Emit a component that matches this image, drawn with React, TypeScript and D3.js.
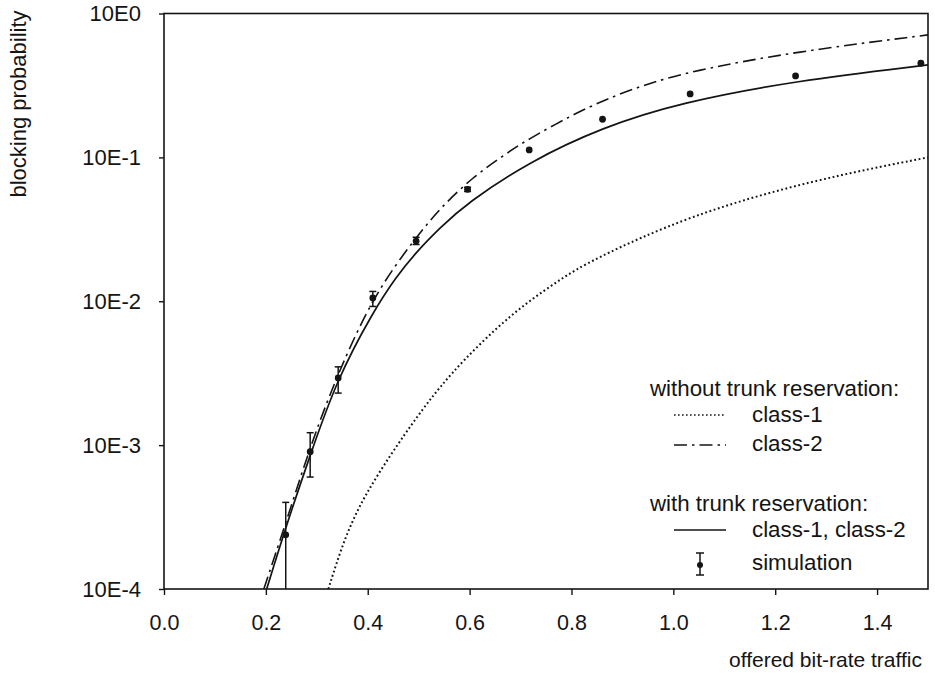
import { useEffect, useRef } from 'react';
import * as d3 from 'd3';

// axis ticks
const xTicks = [0, 0.2, 0.4, 0.6, 0.8, 1.0, 1.2, 1.4];
const yTicks = [1, 0.1, 0.01, 0.001, 0.0001];
const yTickLabels = ['10E0', '10E-1', '10E-2', '10E-3', '10E-4'];

// without trunk reservation, class-1 (dotted)
const class1X = [0.3227, 0.352, 0.391, 0.463, 0.509, 0.542, 0.588, 0.653, 0.712, 0.777, 0.836, 1.033, 1.275, 1.5];
const class1Y = [1e-4, 2.14e-4, 4.37e-4, 1.07e-3, 1.8e-3, 2.54e-3, 3.89e-3, 6.53e-3, 9.77e-3, 0.0141, 0.0191, 0.0398, 0.0697, 0.1];

// without trunk reservation, class-2 (dash-dot)
const class2X = [0.196, 0.239, 0.287, 0.336, 0.411, 0.496, 0.542, 0.607, 0.673, 0.709, 0.804, 0.869, 0.935, 1.033, 1.24, 1.5];
const class2Y = [1e-4, 2.86e-4, 9.77e-4, 2.84e-3, 0.01107, 0.0281, 0.0443, 0.0735, 0.1067, 0.13, 0.1995, 0.254, 0.3126, 0.398, 0.543, 0.71];

// with trunk reservation, class-1 and class-2 (solid)
const trunkX = [0.2016, 0.239, 0.287, 0.339, 0.411, 0.456, 0.496, 0.542, 0.594, 0.717, 0.861, 1.013, 1.24, 1.5];
const trunkY = [1e-4, 2.69e-4, 8.51e-4, 2.84e-3, 8.51e-3, 0.0148, 0.0221, 0.0324, 0.0479, 0.0933, 0.162, 0.24, 0.341, 0.439];

// simulation points with confidence intervals
const simX = [0.239, 0.287, 0.342, 0.41, 0.495, 0.596, 0.717, 0.861, 1.033, 1.24, 1.486];
const simY = [2.38e-4, 9.0e-4, 2.93e-3, 0.01055, 0.0262, 0.06, 0.1126, 0.184, 0.276, 0.368, 0.451];
const simLow = [1e-5, 6.0e-4, 2.3e-3, 0.0092, 0.0248, 0.058, 0.1126, 0.184, 0.276, 0.368, 0.451];
const simHigh = [4.0e-4, 1.22e-3, 3.5e-3, 0.0117, 0.0278, 0.062, 0.1126, 0.184, 0.276, 0.368, 0.451];

const W = 935;
const H = 680;
const left = 164, right = 928, top = 13.5, bottom = 589;
const ink = '#141414';
const font = '"Liberation Sans", Arial, Helvetica, sans-serif';

const App = () => {
  const xAxisRef = useRef<SVGGElement>(null);
  const yAxisRef = useRef<SVGGElement>(null);

  const x = d3.scaleLinear().domain([0, 1.5]).range([left, right]);
  const y = d3.scaleLog().domain([1e-4, 1]).range([bottom, top]);

  const line = d3.line<[number, number]>()
    .x(d => x(d[0]))
    .y(d => y(d[1]))
    .curve(d3.curveBasis);

  const class1 = line(class1X.map((v, i) => [v, class1Y[i]]));
  const class2 = line(class2X.map((v, i) => [v, class2Y[i]]));
  const trunk = line(trunkX.map((v, i) => [v, trunkY[i]]));

  useEffect(() => {
    const gx = d3.select(xAxisRef.current!);
    gx.call(
      d3.axisBottom(x)
        .tickValues(xTicks)
        .tickSize(6)
        .tickPadding(20)
        .tickFormat(d => (d as number).toFixed(1)) as any
    );
    const gy = d3.select(yAxisRef.current!);
    gy.call(
      d3.axisLeft(y)
        .tickValues(yTicks)
        .tickSize(5)
        .tickPadding(18)
        .tickFormat((d, i) => yTickLabels[i]) as any
    );
    gx.attr('font-size', 21.5);
    gy.attr('font-size', 22);
    [gx, gy].forEach(g => {
      g.select('.domain').remove();
      g.attr('font-family', font);
      g.selectAll('line').attr('stroke', ink).attr('stroke-width', 1.4);
      g.selectAll('text').attr('fill', ink);
    });
  }, []);

  const cap = 3.5;

  return (
    <svg width={W} height={H} style={{ position: 'absolute', left: 0, top: 0, background: '#fff' }}>
      <defs>
        <clipPath id="plot">
          <rect x={left} y={top} width={right - left} height={bottom - top} />
        </clipPath>
      </defs>

      <rect x={left} y={top} width={right - left} height={bottom - top} fill="none" stroke={ink} strokeWidth={1.6} />
      <g ref={xAxisRef} transform={`translate(0,${bottom})`} />
      <g ref={yAxisRef} transform={`translate(${left},0)`} />

      <g clipPath="url(#plot)" fill="none" stroke={ink}>
        <path d={class1 ?? ''} strokeWidth={2} strokeDasharray="1.8 2.6" />
        <path d={class2 ?? ''} strokeWidth={1.6} strokeDasharray="13 5 2.5 5" />
        <path d={trunk ?? ''} strokeWidth={1.7} />
        {simX.map((v, i) => {
          const hi = simHigh[i], lo = simLow[i];
          if (hi === lo) return null;
          const cx = x(v);
          return (
            <g key={'e' + i} strokeWidth={1.5}>
              <line x1={cx} x2={cx} y1={y(hi)} y2={lo < 1e-4 ? bottom + 2 : y(lo)} />
              <line x1={cx - cap} x2={cx + cap} y1={y(hi)} y2={y(hi)} />
              {lo >= 1e-4 && <line x1={cx - cap} x2={cx + cap} y1={y(lo)} y2={y(lo)} />}
            </g>
          );
        })}
        {simX.map((v, i) => (
          <circle key={'p' + i} cx={x(v)} cy={y(simY[i])} r={3.4} fill={ink} stroke="none" />
        ))}
      </g>

      <g fontFamily={font} fill={ink}>
        <text transform="translate(26,104) rotate(-90)" textAnchor="middle" fontSize={22}>blocking probability</text>
        <text x={922} y={667} textAnchor="end" fontSize={21}>offered bit-rate traffic</text>
      </g>

      <g fontFamily={font} fontSize={22.3} fill={ink}>
        <text x={650} y={396}>without trunk reservation:</text>
        <line x1={674} x2={726} y1={415} y2={415} stroke={ink} strokeWidth={1.6} strokeDasharray="1.6 2.4" />
        <text x={752} y={422}>class-1</text>
        <line x1={674} x2={726} y1={445} y2={445} stroke={ink} strokeWidth={1.6} strokeDasharray="13 5 2.5 5" />
        <text x={752} y={451}>class-2</text>

        <text x={650} y={511}>with trunk reservation:</text>
        <line x1={674} x2={726} y1={530} y2={530} stroke={ink} strokeWidth={1.6} />
        <text x={752} y={537}>class-1, class-2</text>
        <g stroke={ink} strokeWidth={1.5}>
          <line x1={700} x2={700} y1={553} y2={575} />
          <line x1={696} x2={704} y1={553} y2={553} />
          <line x1={696} x2={704} y1={575} y2={575} />
        </g>
        <circle cx={700} cy={565} r={3} fill={ink} />
        <text x={752} y={570}>simulation</text>
      </g>
    </svg>
  );
};

export default App;
